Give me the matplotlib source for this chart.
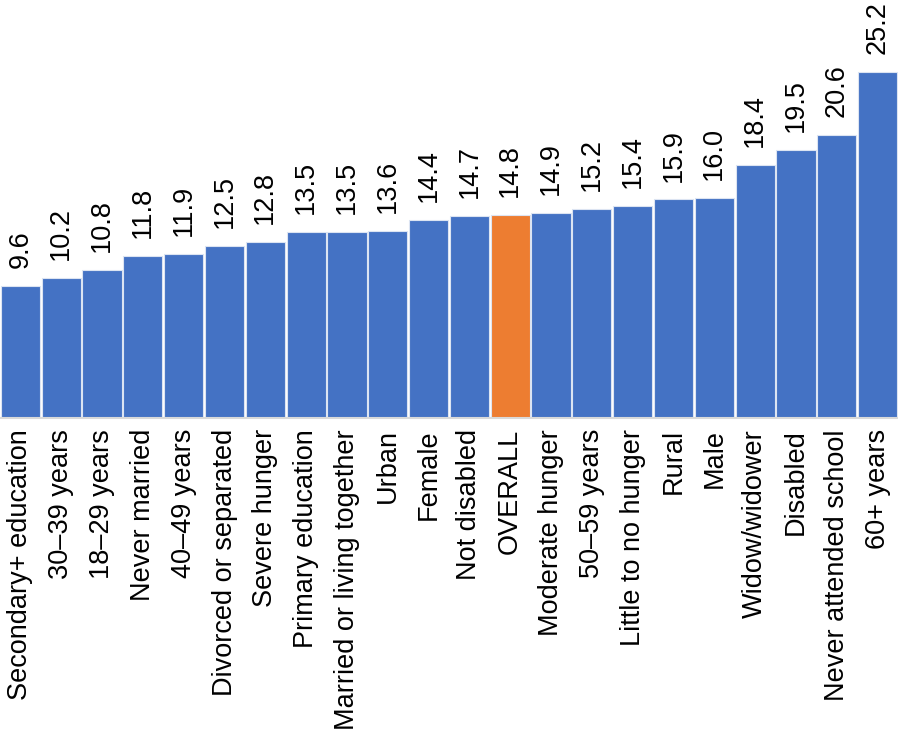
import matplotlib.pyplot as plt
import numpy as np

plt.rcParams['font.family'] = ['Liberation Sans', 'DejaVu Sans']

labels = ["Secondary+ education", "30\u201339 years", "18\u201329 years", "Never married",
          "40\u201349 years", "Divorced or separated", "Severe hunger", "Primary education",
          "Married or living together", "Urban", "Female", "Not disabled", "OVERALL",
          "Moderate hunger", "50\u201359 years", "Little to no hunger", "Rural", "Male",
          "Widow/widower", "Disabled", "Never attended school", "60+ years"]
values = [9.6, 10.2, 10.8, 11.8, 11.9, 12.5, 12.8, 13.5, 13.5, 13.6, 14.4, 14.7, 14.8,
          14.9, 15.2, 15.4, 15.9, 16.0, 18.4, 19.5, 20.6, 25.2]

colors = ["#ED7D31" if l == "OVERALL" else "#4472C4" for l in labels]

fig = plt.figure(figsize=(8.98, 7.49), dpi=100)
ax = fig.add_axes([0, 1 - 418 / 749, 1, 418 / 749])
x = np.arange(len(labels))
ax.bar(x, values, width=0.96, color=colors, edgecolor="#dce4f2", linewidth=0.8)
for xi, v in zip(x, values):
    ax.text(xi, v + 1.3, f"{v:.1f}", rotation=90, ha="center", va="bottom", fontsize=19.5)

ax.set_xlim(-0.5, len(labels) - 0.5)
ax.set_ylim(0, 30.4)
ax.set_xticks(x)
ax.set_xticklabels(labels, rotation=90, fontsize=19.5)
ax.tick_params(axis="x", length=0, pad=8)
ax.set_yticks([])
for s in ["top", "left", "right"]:
    ax.spines[s].set_visible(False)
ax.spines["bottom"].set_color("#d9d9d9")
ax.spines["bottom"].set_linewidth(1.5)

fig.savefig("out.png", dpi=100)
